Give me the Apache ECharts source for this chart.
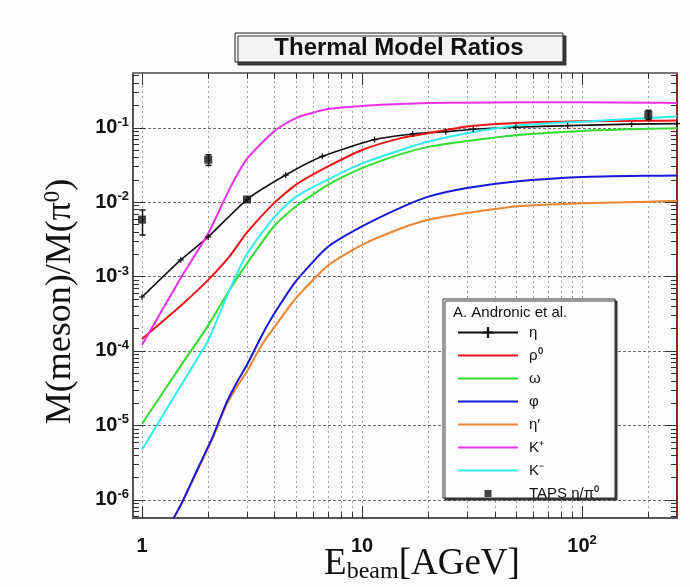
<!DOCTYPE html>
<html>
<head>
<meta charset="utf-8">
<title>Thermal Model Ratios</title>
<script src="https://cdn.jsdelivr.net/npm/echarts@6/dist/echarts.min.js"></script>
<style>
  html, body { margin: 0; padding: 0; background: #fcfcfc; }
  #chart { width: 690px; height: 587px; }
</style>
</head>
<body>
<div id="chart"></div>
<script>
// Beam energies (AGeV) for the thermal-model curves of rho0, omega, K+ and K-
const eBeam  = [1, 1.5, 2, 2.5, 3, 4, 5, 7, 10, 15, 20, 30, 50, 100, 200, 270];
const rho0   = [1.45e-4, 4.05e-4, 9.0e-4, 1.86e-3, 3.9e-3, 9.8e-3, 1.70e-2, 3.0e-2, 5.0e-2, 7.2e-2, 8.4e-2, 0.103, 0.115, 0.121, 0.123, 0.124];
const omega  = [1.05e-5, 6.3e-5, 2.2e-4, 6.6e-4, 1.5e-3, 4.8e-3, 8.7e-3, 1.7e-2, 2.85e-2, 4.4e-2, 5.5e-2, 6.6e-2, 7.9e-2, 9.0e-2, 9.6e-2, 9.8e-2];
const kPlus  = [1.2e-4, 9.5e-4, 3.8e-3, 1.5e-2, 3.8e-2, 9.0e-2, 0.134, 0.177, 0.195, 0.207, 0.213, 0.216, 0.218, 0.218, 0.216, 0.214];
const kMinus = [4.7e-6, 3.4e-5, 1.4e-4, 6.6e-4, 2.0e-3, 6.3e-3, 1.17e-2, 2.0e-2, 3.3e-2, 5.0e-2, 6.5e-2, 8.4e-2, 0.106, 0.12, 0.134, 0.141];

// eta / pi0 curve, with its own sampling energies
const etaE = [1, 1.5, 2, 3, 4.5, 6.6, 11.4, 17, 24, 32, 50, 86, 168, 270];
const eta  = [5.3e-4, 1.67e-3, 3.4e-3, 1.08e-2, 2.3e-2, 4.1e-2, 6.9e-2, 8.2e-2, 8.8e-2, 9.5e-2, 0.101, 0.106, 0.111, 0.113];

// phi and eta' curves
const phiE     = [1.3, 1.5, 1.8, 2.1, 2.4, 2.7, 3, 3.5, 4, 5, 7, 10, 15, 20, 30, 50, 100, 200, 270];
const phi      = [4.0e-7, 8.5e-7, 2.7e-6, 7.1e-6, 1.9e-5, 3.8e-5, 6.5e-5, 1.6e-4, 3.2e-4, 8.6e-4, 2.5e-3, 4.7e-3, 8.4e-3, 1.18e-2, 1.54e-2, 1.88e-2, 2.16e-2, 2.25e-2, 2.26e-2];
const etaPrime = [4.0e-7, 8.5e-7, 2.6e-6, 6.8e-6, 1.8e-5, 3.3e-5, 5.3e-5, 1.2e-4, 2.1e-4, 5.1e-4, 1.4e-3, 2.66e-3, 4.4e-3, 5.77e-3, 7.1e-3, 8.7e-3, 9.6e-3, 1.01e-2, 1.03e-2];

// TAPS eta/pi0 measurements with error ranges
const tapsE     = [1, 2, 3, 200];
const tapsRatio = [5.8e-3, 3.7e-2, 1.08e-2, 0.148];
const tapsLow   = [3.6e-3, 3.1e-2, 1.08e-2, 0.128];
const tapsHigh  = [7.8e-3, 4.3e-2, 1.08e-2, 0.170];

// Axis ranges and tick positions
const X_MIN = 0.91, X_MAX = 270, Y_MIN = 5.7e-7, Y_MAX = 0.54;
const xMajorTicks = [1, 10, 100];
const xMinorTicks = [2, 3, 4, 5, 6, 7, 8, 9, 20, 30, 40, 50, 60, 70, 80, 90, 200];
const yMajorTicks = [1e-6, 1e-5, 1e-4, 1e-3, 1e-2, 1e-1];
const minorMantissas = [2, 3, 4, 5, 6, 7, 8, 9];
const yMinorTicks = [];
[1e-7, 1e-6, 1e-5, 1e-4, 1e-3, 1e-2, 1e-1].forEach(d => {
  minorMantissas.forEach(m => {
    const v = m * d;
    if (v > Y_MIN && v < Y_MAX) yMinorTicks.push(v);
  });
});

const SANS = '"Liberation Sans", Arial, Helvetica, sans-serif';
const SERIF = '"Liberation Serif", "Times New Roman", "DejaVu Serif", serif';
const LINE_ICON = 'path://M0,0H30V1H0Z';

function pairs(xs, ys) { return xs.map((x, i) => [x, ys[i]]); }

// tick marks and dotted grid lines, placed through the axis scales
const axisMarks = [];
xMajorTicks.forEach(v => axisMarks.push([v, 1e-3, 1, 0]));
xMinorTicks.forEach(v => axisMarks.push([v, 1e-3, 0, 0]));
yMajorTicks.forEach(v => axisMarks.push([1, v, 1, 1]));
yMinorTicks.forEach(v => axisMarks.push([1, v, 0, 1]));

function crisp(x) { return Math.round(x) + 0.5; }

function renderAxisMarks(params, api) {
  const major = api.value(2) === 1;
  const isY = api.value(3) === 1;
  const len = major ? 12 : 6;
  const tickStyle = { stroke: '#333', lineWidth: 1 };
  const children = [];
  if (!isY) {
    const v = api.value(0);
    const b = api.coord([v, Y_MIN]);
    const t = api.coord([v, Y_MAX]);
    const x = crisp(b[0]);
    children.push({ type: 'line', shape: { x1: x, y1: b[1], x2: x, y2: t[1] },
      style: { stroke: '#a0a0a0', lineWidth: 1, lineDash: [2, 3] } });
    children.push({ type: 'line', shape: { x1: x, y1: b[1], x2: x, y2: b[1] - len }, style: tickStyle });
    children.push({ type: 'line', shape: { x1: x, y1: t[1], x2: x, y2: t[1] + len }, style: tickStyle });
  } else {
    const v = api.value(1);
    const l = api.coord([X_MIN, v]);
    const r = api.coord([X_MAX, v]);
    const y = crisp(l[1]);
    if (major) {
      children.push({ type: 'line', shape: { x1: l[0], y1: y, x2: r[0], y2: y },
        style: { stroke: '#707070', lineWidth: 1, lineDash: [3, 2] } });
    }
    children.push({ type: 'line', shape: { x1: l[0], y1: y, x2: l[0] + len, y2: y }, style: tickStyle });
    children.push({ type: 'line', shape: { x1: r[0], y1: y, x2: r[0] - len, y2: y }, style: tickStyle });
  }
  return { type: 'group', children };
}

function renderErrorBars(params, api) {
  const x = api.value(0), lo = api.value(2), hi = api.value(3);
  if (!(hi > lo)) return { type: 'group', children: [] };
  const a = api.coord([x, lo]);
  const b = api.coord([x, hi]);
  const cx = crisp(a[0]);
  const st = { stroke: '#111', lineWidth: 1.5 };
  return {
    type: 'group',
    children: [
      { type: 'line', shape: { x1: cx, y1: a[1], x2: cx, y2: b[1] }, style: st },
      { type: 'line', shape: { x1: cx - 3, y1: a[1], x2: cx + 3, y2: a[1] }, style: st },
      { type: 'line', shape: { x1: cx - 3, y1: b[1], x2: cx + 3, y2: b[1] }, style: st }
    ]
  };
}

function isPow10(v) {
  const e = Math.log10(v);
  return Math.abs(e - Math.round(e)) < 1e-6;
}

const labelRich = {
  b: { fontFamily: SANS, fontSize: 20, fontWeight: 'bold', color: '#111', lineHeight: 24 },
  s: { fontFamily: SANS, fontSize: 13, fontWeight: 'bold', color: '#111', lineHeight: 12, verticalAlign: 'top' }
};

function curve(name, xs, ys, color, z) {
  return {
    type: 'line', name, data: pairs(xs, ys),
    showSymbol: false, symbol: 'none',
    smooth: 0.2,
    lineStyle: { color, width: 2 }, itemStyle: { color },
    z: z || 2, silent: true
  };
}

const chart = echarts.init(document.getElementById('chart'), null, { renderer: 'canvas' });

chart.setOption({
  animation: false,
  backgroundColor: '#fcfcfc',
  grid: { left: 133, top: 73, right: 13, bottom: 69, containLabel: false, outerBoundsMode: 'none' },
  graphic: [
    { type: 'rect', z: 30, shape: { x: 235, y: 33, width: 328, height: 29 },
      style: { fill: '#f3f3f3', stroke: '#222', lineWidth: 1, shadowColor: 'rgba(40,40,40,0.9)', shadowOffsetX: 3, shadowOffsetY: 3, shadowBlur: 0 } },
    { type: 'text', z: 31, x: 399, y: 48,
      style: { text: 'Thermal Model Ratios', font: 'bold 24px ' + SANS, fill: '#111', align: 'center', verticalAlign: 'middle' } },
    { type: 'rect', z: 30, shape: { x: 443, y: 299, width: 172, height: 199 },
      style: { fill: '#fdfdfd', stroke: '#333', lineWidth: 1, shadowColor: 'rgba(40,40,40,0.9)', shadowOffsetX: 2, shadowOffsetY: 2, shadowBlur: 0 } },
    { type: 'text', z: 31, x: 453, y: 313,
      style: { text: 'A. Andronic et al.', font: '15px ' + SANS, fill: '#111', align: 'left', verticalAlign: 'middle' } }
  ],
  legend: {
    orient: 'vertical', left: 457, top: 325, z: 32,
    itemWidth: 60, itemHeight: 14, itemGap: 8, padding: 0,
    selectedMode: false,
    textStyle: { fontFamily: SANS, fontSize: 15, color: '#111', lineHeight: 14, padding: [0, 0, 0, 6] },
    data: [
      'η',
      { name: 'ρ⁰', icon: LINE_ICON },
      { name: 'ω', icon: LINE_ICON },
      { name: 'φ', icon: LINE_ICON },
      { name: 'η′', icon: LINE_ICON },
      { name: 'K⁺', icon: LINE_ICON },
      { name: 'K⁻', icon: LINE_ICON },
      { name: 'TAPS η/π⁰', icon: 'path://M0,0M10,10M2.5,2.5H7.5V7.5H2.5Z' }
    ]
  },
  xAxis: [
    {
      type: 'log', logBase: 10, min: X_MIN, max: X_MAX, position: 'bottom',
      axisLine: { show: true, onZero: false, lineStyle: { color: '#555', width: 2 } },
      axisTick: { show: false }, splitLine: { show: false },
      axisLabel: {
        margin: 16, showMinLabel: false, showMaxLabel: false, rich: labelRich,
        formatter: v => {
          if (!isPow10(v)) return '';
          const e = Math.round(Math.log10(v));
          if (e === 0) return '{b|1}';
          if (e === 1) return '{b|10}';
          return '{b|10}{s|' + e + '}';
        }
      },
      name: '{t|E}{u|beam}{t|[AGeV]}', nameLocation: 'middle', nameGap: 26, nameMoveOverlap: false,
      nameTextStyle: {
        padding: [0, 0, 0, 34],
        rich: {
          t: { fontFamily: SERIF, fontSize: 37, color: '#111', lineHeight: 40 },
          u: { fontFamily: SERIF, fontSize: 24, color: '#111', lineHeight: 17, verticalAlign: 'bottom' }
        }
      }
    },
    {
      type: 'log', logBase: 10, min: X_MIN, max: X_MAX, position: 'top',
      axisLine: { show: true, onZero: false, lineStyle: { color: '#777', width: 2 } },
      axisTick: { show: false }, axisLabel: { show: false }, splitLine: { show: false }
    }
  ],
  yAxis: [
    {
      type: 'log', logBase: 10, min: Y_MIN, max: Y_MAX, position: 'left',
      axisLine: { show: true, onZero: false, lineStyle: { color: '#555', width: 2 } },
      axisTick: { show: false }, splitLine: { show: false },
      axisLabel: {
        margin: 4, showMinLabel: false, showMaxLabel: false, rich: labelRich,
        formatter: v => isPow10(v) ? '{b|10}{s|' + Math.round(Math.log10(v)) + '}' : ''
      },
      name: '{t|M(meson)/M(π}{s|0}{t|)}', nameLocation: 'middle', nameRotate: 90, nameGap: 52,
      nameMoveOverlap: false,
      nameTextStyle: {
        padding: [0, 12, 0, 0],
        rich: {
          t: { fontFamily: SERIF, fontSize: 36, color: '#111', lineHeight: 40 },
          s: { fontFamily: SERIF, fontSize: 23, color: '#111', lineHeight: 20, verticalAlign: 'top' }
        }
      }
    },
    {
      type: 'log', logBase: 10, min: Y_MIN, max: Y_MAX, position: 'right',
      axisLine: { show: true, onZero: false, lineStyle: { color: '#8a2a2a', width: 2 } },
      axisTick: { show: false }, axisLabel: { show: false }, splitLine: { show: false }
    }
  ],
  series: [
    { type: 'custom', name: 'axis marks', renderItem: renderAxisMarks, data: axisMarks,
      silent: true, z: 1, clip: false },
    {
      type: 'line', name: 'η', data: pairs(etaE, eta),
      symbol: 'path://M4,0H6V4H10V6H6V10H4V6H0V4H4Z', symbolSize: 6, showSymbol: true,
      smooth: 0.2,
      lineStyle: { color: '#111', width: 1.6 }, itemStyle: { color: '#111' }, z: 2, silent: true
    },
    curve('ρ⁰', eBeam, rho0, '#f01414'),
    curve('ω', eBeam, omega, '#33dd33'),
    curve('η′', phiE, etaPrime, '#ee8533'),
    curve('φ', phiE, phi, '#1818d8', 3),
    curve('K⁺', eBeam, kPlus, '#ee30ee'),
    curve('K⁻', eBeam, kMinus, '#30eeee'),
    {
      type: 'scatter', name: 'TAPS η/π⁰', data: pairs(tapsE, tapsRatio),
      symbol: 'rect', symbolSize: 8, itemStyle: { color: '#111' }, z: 6, silent: true
    },
    {
      type: 'custom', name: 'TAPS errors', renderItem: renderErrorBars,
      data: tapsE.map((x, i) => [x, tapsRatio[i], tapsLow[i], tapsHigh[i]]),
      silent: true, z: 6, clip: false
    }
  ]
});
</script>
</body>
</html>
